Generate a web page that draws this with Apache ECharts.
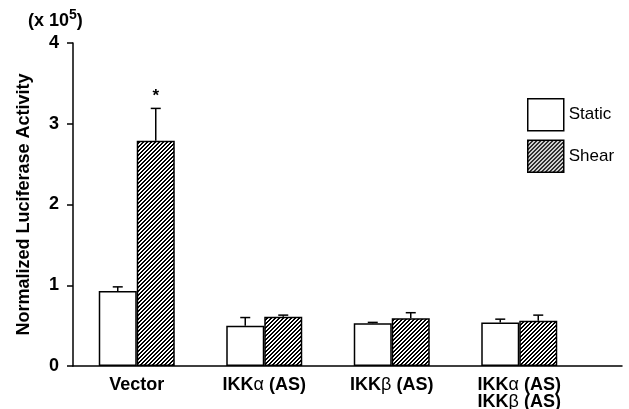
<!DOCTYPE html>
<html><head><meta charset="utf-8">
<script src="https://cdn.jsdelivr.net/npm/echarts@6/dist/echarts.min.js"></script>
<style>html,body{margin:0;padding:0;background:#fff}#c{width:629px;height:409px}</style>
</head><body><div id="c"></div>
<script>
const categories = ['Vector', 'IKKα (AS)', 'IKKβ (AS)', 'IKKα (AS)\nIKKβ (AS)'];
const seriesNames = ['Static', 'Shear'];
const staticValues = [0.93, 0.50, 0.53, 0.54];
const staticErrors = [0.05, 0.10, 0.01, 0.04];
const shearValues = [2.79, 0.61, 0.59, 0.56];
const shearErrors = [0.40, 0.02, 0.07, 0.07];
const shearMarks = ['*', '', '', ''];
const yTicks = [0, 1, 2, 3, 4];

const FONT = '"Liberation Sans", Arial, Helvetica, sans-serif';
const BAR_W = 38;

function hatch() {
  const n = 4;
  const c = document.createElement('canvas');
  c.width = n; c.height = n;
  const g = c.getContext('2d');
  const img = g.createImageData(n, n);
  for (let y = 0; y < n; y++) for (let x = 0; x < n; x++) {
    const k = (x + y) % 4;
    const v = (k === 0 || k === 1) ? 0 : 255;
    const p = (y * n + x) * 4;
    img.data[p] = v; img.data[p + 1] = v; img.data[p + 2] = v; img.data[p + 3] = 255;
  }
  g.putImageData(img, 0, 0);
  return c;
}
const hatchFill = { image: hatch(), repeat: 'repeat' };

function errSeries(vals, errs, side, marks) {
  return {
    type: 'custom', xAxisIndex: 0, yAxisIndex: 0, z: 5,
    data: vals.map((v, i) => [i, v, v + errs[i], marks ? marks[i] : '']),
    renderItem(params, api) {
      const i = api.value(0);
      const base = api.coord([i, api.value(1)]);
      const top = api.coord([i, api.value(2)]);
      const x = base[0] + side * BAR_W / 2;
      const st = { stroke: '#000', lineWidth: 1.5 };
      const children = [
        { type: 'line', shape: { x1: x, y1: base[1], x2: x, y2: top[1] }, style: st },
        { type: 'line', shape: { x1: x - 5, y1: top[1], x2: x + 5, y2: top[1] }, style: st }
      ];
      const m = api.value(3);
      if (m) {
        children.push({ type: 'text', style: { text: m, x: x, y: top[1] - 4, align: 'center', verticalAlign: 'bottom',
          font: 'bold 17px ' + FONT, fill: '#000' } });
      }
      return { type: 'group', children };
    }
  };
}

const chart = echarts.init(document.getElementById('c'), null, { renderer: 'canvas' });
chart.setOption({
  animation: false,
  backgroundColor: '#fff',
  grid: [
    { left: 73, top: 43, width: 510, height: 323, containLabel: false, outerBoundsMode: 'none' },
    { left: 73, top: 43, width: 549, height: 323, containLabel: false, outerBoundsMode: 'none' }
  ],
  xAxis: [
    { type: 'category', gridIndex: 0, data: categories,
      axisLine: { show: false }, axisTick: { show: false },
      axisLabel: { interval: 0, color: '#000', fontFamily: FONT, fontWeight: 'bold', fontSize: 18, lineHeight: 17, margin: 11,
        formatter: v => v.replace(/([αβ])/g, '{g|$1}'),
        rich: { g: { fontFamily: FONT, fontWeight: 'normal', fontSize: 18, lineHeight: 17, color: '#000' } } } },
    { type: 'value', gridIndex: 1, min: 0, max: 1,
      axisLine: { show: true, lineStyle: { color: '#000', width: 1.5 } },
      axisTick: { show: false }, axisLabel: { show: false }, splitLine: { show: false } }
  ],
  yAxis: [
    { type: 'value', gridIndex: 0, min: yTicks[0], max: yTicks[yTicks.length - 1], interval: 1,
      name: 'Normalized Luciferase Activity', nameLocation: 'middle', nameGap: 40,
      nameTextStyle: { color: '#000', fontFamily: FONT, fontWeight: 'bold', fontSize: 18 },
      axisLine: { show: true, lineStyle: { color: '#000', width: 1.5 } },
      axisTick: { show: true, length: 6, lineStyle: { color: '#000', width: 1.5 } },
      axisLabel: { color: '#000', fontFamily: FONT, fontWeight: 'bold', fontSize: 18, margin: 14 },
      splitLine: { show: false } },
    { type: 'value', gridIndex: 1, min: 0, max: 1, show: false }
  ],
  legend: {
    orient: 'vertical', left: 527, top: 98, padding: 0, itemWidth: 36, itemHeight: 32, itemGap: 8,
    icon: 'rect',
    data: seriesNames,
    textStyle: { color: '#000', fontFamily: FONT, fontSize: 17 },
    itemStyle: { borderColor: '#000', borderWidth: 1.5 }
  },
  graphic: [
    { type: 'text', left: 28, top: 8,
      style: { text: '{a|(x 10}{s|5}{a|)}', fill: '#000',
        rich: { a: { fontFamily: FONT, fontWeight: 'bold', fontSize: 18, lineHeight: 22, verticalAlign: 'bottom' },
                s: { fontFamily: FONT, fontWeight: 'bold', fontSize: 14, lineHeight: 22, verticalAlign: 'top' } } } }
  ],
  series: [
    { name: seriesNames[0], type: 'bar', xAxisIndex: 0, yAxisIndex: 0, data: staticValues, barWidth: BAR_W, barGap: '0%',
      itemStyle: { color: '#fff', borderColor: '#000', borderWidth: 1.5 } },
    { name: seriesNames[1], type: 'bar', xAxisIndex: 0, yAxisIndex: 0, data: shearValues, barWidth: BAR_W, barGap: '0%',
      itemStyle: { color: hatchFill, borderColor: '#000', borderWidth: 1.5 } },
    errSeries(staticValues, staticErrors, -1, null),
    errSeries(shearValues, shearErrors, 1, shearMarks)
  ]
});
</script></body></html>
